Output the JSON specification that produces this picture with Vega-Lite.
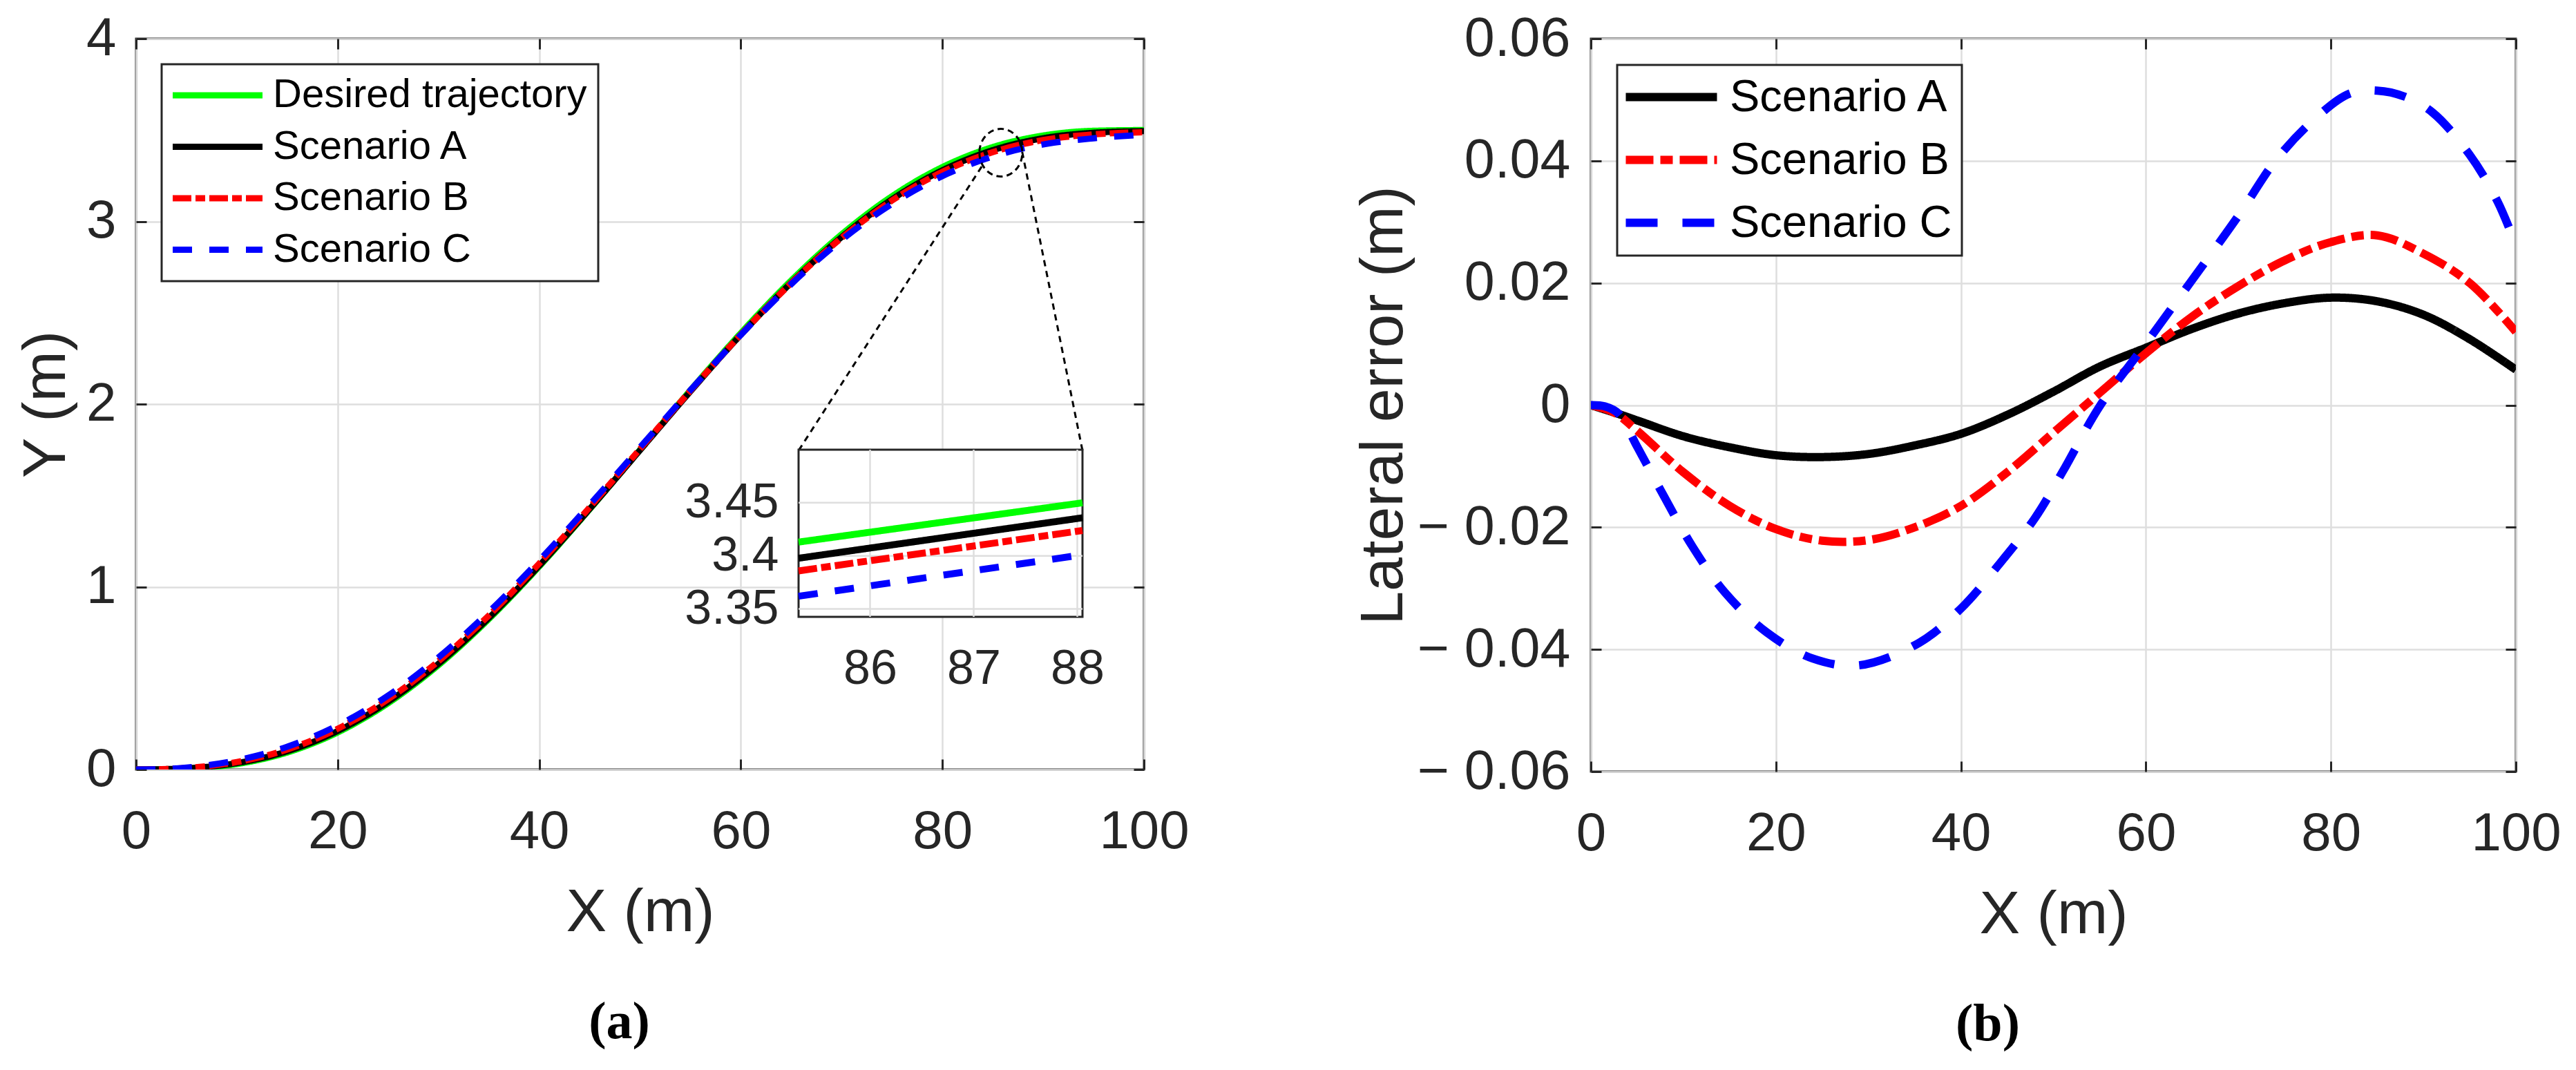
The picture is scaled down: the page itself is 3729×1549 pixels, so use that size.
{
  "$schema": "https://vega.github.io/schema/vega-lite/v6.json",
  "background": "white",
  "padding": {"left": 22, "top": 15, "right": 5, "bottom": 5},
  "config": {
    "view": {"stroke": "#262626", "strokeWidth": 3},
    "font": "Liberation Sans",
    "axis": {
      "domain": false,
      "labelFont": "Liberation Sans",
      "titleFont": "Liberation Sans",
      "labelColor": "#262626",
      "titleColor": "#262626",
      "titleFontWeight": "normal",
      "tickColor": "#262626",
      "tickWidth": 3,
      "tickSize": -15,
      "gridColor": "#dedede",
      "gridWidth": 2.5,
      "labelFlush": false,
      "labelOverlap": false,
      "labelBound": false,
      "labelLimit": 400
    }
  },
  "datasets": {
    "main": [
      {"x": 0, "y": 0, "s": "Desired trajectory"}, {"x": 2.5, "y": 0.0005, "s": "Desired trajectory"}, {"x": 5, "y": 0.0041, "s": "Desired trajectory"}, {"x": 10, "y": 0.03, "s": "Desired trajectory"}, {"x": 15, "y": 0.0931, "s": "Desired trajectory"}, {"x": 20, "y": 0.2027, "s": "Desired trajectory"}, {"x": 25, "y": 0.3623, "s": "Desired trajectory"}, {"x": 30, "y": 0.5708, "s": "Desired trajectory"}, {"x": 35, "y": 0.8231, "s": "Desired trajectory"}, {"x": 40, "y": 1.111, "s": "Desired trajectory"}, {"x": 45, "y": 1.4241, "s": "Desired trajectory"}, {"x": 50, "y": 1.75, "s": "Desired trajectory"}, {"x": 55, "y": 2.0759, "s": "Desired trajectory"}, {"x": 60, "y": 2.389, "s": "Desired trajectory"}, {"x": 65, "y": 2.6769, "s": "Desired trajectory"}, {"x": 70, "y": 2.9292, "s": "Desired trajectory"}, {"x": 75, "y": 3.1377, "s": "Desired trajectory"}, {"x": 80, "y": 3.2973, "s": "Desired trajectory"}, {"x": 85, "y": 3.4069, "s": "Desired trajectory"}, {"x": 90, "y": 3.47, "s": "Desired trajectory"}, {"x": 95, "y": 3.496, "s": "Desired trajectory"}, {"x": 100, "y": 3.5, "s": "Desired trajectory"},
      {"x": 0, "y": 0, "s": "Scenario A"}, {"x": 2.5, "y": 0.0017, "s": "Scenario A"}, {"x": 5, "y": 0.0066, "s": "Scenario A"}, {"x": 10, "y": 0.0351, "s": "Scenario A"}, {"x": 15, "y": 0.1, "s": "Scenario A"}, {"x": 20, "y": 0.2109, "s": "Scenario A"}, {"x": 25, "y": 0.3708, "s": "Scenario A"}, {"x": 30, "y": 0.5788, "s": "Scenario A"}, {"x": 35, "y": 0.8297, "s": "Scenario A"}, {"x": 40, "y": 1.1157, "s": "Scenario A"}, {"x": 45, "y": 1.4257, "s": "Scenario A"}, {"x": 50, "y": 1.7478, "s": "Scenario A"}, {"x": 55, "y": 2.0696, "s": "Scenario A"}, {"x": 60, "y": 2.3796, "s": "Scenario A"}, {"x": 65, "y": 2.6644, "s": "Scenario A"}, {"x": 70, "y": 2.9142, "s": "Scenario A"}, {"x": 75, "y": 3.121, "s": "Scenario A"}, {"x": 80, "y": 3.2797, "s": "Scenario A"}, {"x": 85, "y": 3.3899, "s": "Scenario A"}, {"x": 90, "y": 3.4552, "s": "Scenario A"}, {"x": 95, "y": 3.4852, "s": "Scenario A"}, {"x": 100, "y": 3.4942, "s": "Scenario A"},
      {"x": 0, "y": 0, "s": "Scenario B"}, {"x": 2.5, "y": 0.0017, "s": "Scenario B"}, {"x": 5, "y": 0.0083, "s": "Scenario B"}, {"x": 10, "y": 0.041, "s": "Scenario B"}, {"x": 15, "y": 0.1096, "s": "Scenario B"}, {"x": 20, "y": 0.223, "s": "Scenario B"}, {"x": 25, "y": 0.3845, "s": "Scenario B"}, {"x": 30, "y": 0.5929, "s": "Scenario B"}, {"x": 35, "y": 0.8431, "s": "Scenario B"}, {"x": 40, "y": 1.1275, "s": "Scenario B"}, {"x": 45, "y": 1.4351, "s": "Scenario B"}, {"x": 50, "y": 1.7545, "s": "Scenario B"}, {"x": 55, "y": 2.0739, "s": "Scenario B"}, {"x": 60, "y": 2.3805, "s": "Scenario B"}, {"x": 65, "y": 2.6624, "s": "Scenario B"}, {"x": 70, "y": 2.9097, "s": "Scenario B"}, {"x": 75, "y": 3.114, "s": "Scenario B"}, {"x": 80, "y": 3.2706, "s": "Scenario B"}, {"x": 85, "y": 3.3791, "s": "Scenario B"}, {"x": 90, "y": 3.4452, "s": "Scenario B"}, {"x": 95, "y": 3.476, "s": "Scenario B"}, {"x": 100, "y": 3.488, "s": "Scenario B"},
      {"x": 0, "y": 0, "s": "Scenario C"}, {"x": 2.5, "y": 0.0015, "s": "Scenario C"}, {"x": 5, "y": 0.0107, "s": "Scenario C"}, {"x": 10, "y": 0.0505, "s": "Scenario C"}, {"x": 15, "y": 0.1246, "s": "Scenario C"}, {"x": 20, "y": 0.2411, "s": "Scenario C"}, {"x": 25, "y": 0.4042, "s": "Scenario C"}, {"x": 30, "y": 0.6133, "s": "Scenario C"}, {"x": 35, "y": 0.8624, "s": "Scenario C"}, {"x": 40, "y": 1.1443, "s": "Scenario C"}, {"x": 45, "y": 1.4486, "s": "Scenario C"}, {"x": 50, "y": 1.7633, "s": "Scenario C"}, {"x": 55, "y": 2.0761, "s": "Scenario C"}, {"x": 60, "y": 2.3789, "s": "Scenario C"}, {"x": 65, "y": 2.6564, "s": "Scenario C"}, {"x": 70, "y": 2.8982, "s": "Scenario C"}, {"x": 75, "y": 3.0962, "s": "Scenario C"}, {"x": 80, "y": 3.2483, "s": "Scenario C"}, {"x": 85, "y": 3.3554, "s": "Scenario C"}, {"x": 90, "y": 3.4212, "s": "Scenario C"}, {"x": 95, "y": 3.4545, "s": "Scenario C"}, {"x": 100, "y": 3.4738, "s": "Scenario C"}
    ],
    "inset": [
      {"x": 85.31, "y": 3.413, "s": "Desired trajectory"}, {"x": 88.05, "y": 3.45, "s": "Desired trajectory"},
      {"x": 85.31, "y": 3.3978, "s": "Scenario A"}, {"x": 88.05, "y": 3.4359, "s": "Scenario A"},
      {"x": 85.31, "y": 3.3859, "s": "Scenario B"}, {"x": 88.05, "y": 3.4239, "s": "Scenario B"},
      {"x": 85.31, "y": 3.362, "s": "Scenario C"}, {"x": 88.05, "y": 3.401, "s": "Scenario C"}
    ],
    "insetgridx": [{"v": 86}, {"v": 87}, {"v": 88}],
    "insetgridy": [{"v": 3.35}, {"v": 3.4}, {"v": 3.45}],
    "callout": [
      {"x": 83.9, "y": 3.3, "x2": 65.73, "y2": 1.7455},
      {"x": 87.7, "y": 3.44, "x2": 93.9, "y2": 1.7455}
    ],
    "zoomspot": [{"x": 85.8, "y": 3.376}],
    "err": [
      {"x": 0, "e": 0, "s": "Scenario A"}, {"x": 2.5, "e": -0.0012, "s": "Scenario A"}, {"x": 5, "e": -0.0025, "s": "Scenario A"}, {"x": 10, "e": -0.0051, "s": "Scenario A"}, {"x": 15, "e": -0.0069, "s": "Scenario A"}, {"x": 20, "e": -0.0082, "s": "Scenario A"}, {"x": 25, "e": -0.0085, "s": "Scenario A"}, {"x": 30, "e": -0.008, "s": "Scenario A"}, {"x": 35, "e": -0.0066, "s": "Scenario A"}, {"x": 40, "e": -0.0047, "s": "Scenario A"}, {"x": 45, "e": -0.0016, "s": "Scenario A"}, {"x": 50, "e": 0.0022, "s": "Scenario A"}, {"x": 55, "e": 0.0063, "s": "Scenario A"}, {"x": 60, "e": 0.0094, "s": "Scenario A"}, {"x": 65, "e": 0.0125, "s": "Scenario A"}, {"x": 70, "e": 0.015, "s": "Scenario A"}, {"x": 75, "e": 0.0167, "s": "Scenario A"}, {"x": 80, "e": 0.0176, "s": "Scenario A"}, {"x": 85, "e": 0.017, "s": "Scenario A"}, {"x": 90, "e": 0.0148, "s": "Scenario A"}, {"x": 95, "e": 0.0108, "s": "Scenario A"}, {"x": 100, "e": 0.0058, "s": "Scenario A"},
      {"x": 0, "e": 0, "s": "Scenario B"}, {"x": 2.5, "e": -0.0012, "s": "Scenario B"}, {"x": 5, "e": -0.0042, "s": "Scenario B"}, {"x": 10, "e": -0.011, "s": "Scenario B"}, {"x": 15, "e": -0.0165, "s": "Scenario B"}, {"x": 20, "e": -0.0203, "s": "Scenario B"}, {"x": 25, "e": -0.0222, "s": "Scenario B"}, {"x": 30, "e": -0.0221, "s": "Scenario B"}, {"x": 35, "e": -0.02, "s": "Scenario B"}, {"x": 40, "e": -0.0165, "s": "Scenario B"}, {"x": 45, "e": -0.011, "s": "Scenario B"}, {"x": 50, "e": -0.0045, "s": "Scenario B"}, {"x": 55, "e": 0.002, "s": "Scenario B"}, {"x": 60, "e": 0.0085, "s": "Scenario B"}, {"x": 65, "e": 0.0145, "s": "Scenario B"}, {"x": 70, "e": 0.0195, "s": "Scenario B"}, {"x": 75, "e": 0.0237, "s": "Scenario B"}, {"x": 80, "e": 0.0267, "s": "Scenario B"}, {"x": 85, "e": 0.0278, "s": "Scenario B"}, {"x": 90, "e": 0.0248, "s": "Scenario B"}, {"x": 95, "e": 0.02, "s": "Scenario B"}, {"x": 100, "e": 0.012, "s": "Scenario B"},
      {"x": 0, "e": 0, "s": "Scenario C"}, {"x": 1.5, "e": -0.0002, "s": "Scenario C"}, {"x": 3, "e": -0.0014, "s": "Scenario C"}, {"x": 5, "e": -0.0068, "s": "Scenario C"}, {"x": 8, "e": -0.0152, "s": "Scenario C"}, {"x": 11, "e": -0.0232, "s": "Scenario C"}, {"x": 14.5, "e": -0.0307, "s": "Scenario C"}, {"x": 19, "e": -0.0372, "s": "Scenario C"}, {"x": 24, "e": -0.0415, "s": "Scenario C"}, {"x": 29, "e": -0.0426, "s": "Scenario C"}, {"x": 35.5, "e": -0.0389, "s": "Scenario C"}, {"x": 40, "e": -0.0333, "s": "Scenario C"}, {"x": 44, "e": -0.0263, "s": "Scenario C"}, {"x": 48, "e": -0.0185, "s": "Scenario C"}, {"x": 51, "e": -0.0109, "s": "Scenario C"}, {"x": 55, "e": -0.0002, "s": "Scenario C"}, {"x": 60, "e": 0.0101, "s": "Scenario C"}, {"x": 65, "e": 0.0205, "s": "Scenario C"}, {"x": 70, "e": 0.031, "s": "Scenario C"}, {"x": 74, "e": 0.04, "s": "Scenario C"}, {"x": 78, "e": 0.0465, "s": "Scenario C"}, {"x": 82, "e": 0.051, "s": "Scenario C"}, {"x": 85, "e": 0.0515, "s": "Scenario C"}, {"x": 88, "e": 0.0505, "s": "Scenario C"}, {"x": 91, "e": 0.0479, "s": "Scenario C"}, {"x": 95, "e": 0.041, "s": "Scenario C"}, {"x": 98, "e": 0.0334, "s": "Scenario C"}, {"x": 100, "e": 0.0262, "s": "Scenario C"}
    ]
  },
  "resolve": {"scale": {"x": "independent", "y": "independent", "color": "independent", "strokeDash": "independent"}},
  "spacing": 234,
  "hconcat": [
    {
      "width": 1459,
      "height": 1058,
      "title": {"text": "(a)", "orient": "bottom", "font": "Liberation Serif", "fontSize": 76, "fontWeight": "bold", "color": "black", "anchor": "middle", "frame": "group", "dx": -30, "offset": 78},
      "layer": [
        {
          "layer": [
            {
              "data": {"name": "main"},
              "mark": {"type": "line", "strokeWidth": 9, "interpolate": "monotone", "clip": true},
              "encoding": {
                "x": {"field": "x", "type": "quantitative", "scale": {"domain": [0, 100], "nice": false}, "axis": {"values": [0, 20, 40, 60, 80, 100], "title": "X (m)", "labelFontSize": 78, "titleFontSize": 88, "labelPadding": 66, "titlePadding": 34, "grid": true}},
                "y": {"field": "y", "type": "quantitative", "scale": {"domain": [0, 4], "nice": false}, "axis": {"values": [0, 1, 2, 3, 4], "title": "Y (m)", "labelFontSize": 78, "titleFontSize": 88, "labelPadding": 44, "titlePadding": 13, "grid": true}},
                "color": {"field": "s", "type": "nominal", "scale": {"domain": ["Desired trajectory", "Scenario A", "Scenario B", "Scenario C"], "range": ["#00ff00", "#000000", "#ff0000", "#0000ff"]},
                  "legend": {"title": null, "orient": "top-left", "offset": 37, "symbolType": "M-4,0L4,0", "symbolSize": 1056, "symbolStrokeWidth": 9, "symbolOffset": 36, "labelOffset": 51, "labelFontSize": 58, "labelFont": "Liberation Sans", "labelColor": "black", "labelLimit": 1000, "rowPadding": 16.5, "padding": 16, "strokeColor": "#262626", "fillColor": "white", "encoding": {"legend": {"strokeWidth": {"value": 3}}}}},
                "strokeDash": {"field": "s", "type": "nominal", "scale": {"domain": ["Desired trajectory", "Scenario A", "Scenario B", "Scenario C"], "range": [[1, 0], [1, 0], [27, 6, 14, 6], [28, 25]]},
                  "legend": {"title": null, "orient": "top-left", "offset": 37, "symbolType": "M-4,0L4,0", "symbolSize": 1056, "symbolStrokeWidth": 9, "symbolOffset": 36, "labelOffset": 51, "labelFontSize": 58, "labelFont": "Liberation Sans", "labelColor": "black", "labelLimit": 1000, "rowPadding": 16.5, "padding": 16, "strokeColor": "#262626", "fillColor": "white", "encoding": {"legend": {"strokeWidth": {"value": 3}}}}}
              }
            },
            {
              "data": {"name": "callout"},
              "mark": {"type": "rule", "strokeDash": [9, 7], "strokeWidth": 3, "color": "black"},
              "encoding": {
                "x": {"field": "x", "type": "quantitative", "scale": {"domain": [0, 100], "nice": false}, "axis": {"orient": "top", "values": [0, 20, 40, 60, 80, 100], "labels": false, "grid": false, "title": null}},
                "y": {"field": "y", "type": "quantitative", "scale": {"domain": [0, 4], "nice": false}, "axis": {"orient": "right", "values": [0, 1, 2, 3, 4], "labels": false, "grid": false, "title": null}},
                "x2": {"field": "x2"},
                "y2": {"field": "y2"}
              }
            },
            {
              "data": {"name": "zoomspot"},
              "mark": {"type": "point", "shape": "M-0.9,0A0.9,1,0,1,0,0.9,0A0.9,1,0,1,0,-0.9,0Z", "size": 4761, "filled": false, "strokeWidth": 3, "strokeDash": [9, 6], "color": "black", "opacity": 1},
              "encoding": {
                "x": {"field": "x", "type": "quantitative", "axis": null},
                "y": {"field": "y", "type": "quantitative", "axis": null}
              }
            }
          ],
          "resolve": {"axis": {"x": "independent", "y": "independent"}}
        },
        {
          "layer": [
            {
              "data": {"values": [{}]},
              "mark": {"type": "rect", "fill": "white", "stroke": "#262626", "strokeWidth": 3},
              "encoding": {
                "x": {"datum": 85.31, "type": "quantitative", "scale": {"domain": [85.31, 88.05], "range": [959, 1370], "nice": false}, "axis": {"orient": "bottom", "offset": -221, "values": [86, 87, 88], "title": null, "labelFontSize": 70, "labelPadding": 47, "tickSize": -6, "grid": false}},
                "x2": {"datum": 88.05},
                "y": {"datum": 3.3426, "type": "quantitative", "scale": {"domain": [3.3426, 3.5], "range": [837, 595], "nice": false}, "axis": {"orient": "left", "offset": -959, "values": [3.35, 3.4, 3.45], "format": "~g", "title": null, "labelFontSize": 70, "labelPadding": 35, "tickSize": -6, "grid": false}},
                "y2": {"datum": 3.5}
              }
            },
            {
              "data": {"name": "insetgridx"},
              "mark": {"type": "rule", "color": "#dedede", "strokeWidth": 2.5},
              "encoding": {
                "x": {"field": "v", "type": "quantitative", "axis": {"orient": "top", "offset": -595, "values": [86, 87, 88], "labels": false, "grid": false, "title": null, "tickSize": -6}},
                "y": {"datum": 3.3426, "type": "quantitative", "axis": null},
                "y2": {"datum": 3.5}
              }
            },
            {
              "data": {"name": "insetgridy"},
              "mark": {"type": "rule", "color": "#dedede", "strokeWidth": 2.5},
              "encoding": {
                "y": {"field": "v", "type": "quantitative", "axis": {"orient": "right", "offset": -89, "values": [3.35, 3.4, 3.45], "labels": false, "grid": false, "title": null, "tickSize": -6}},
                "x": {"datum": 85.31, "type": "quantitative", "axis": null},
                "x2": {"datum": 88.05}
              }
            },
            {
              "data": {"name": "inset"},
              "mark": {"type": "line", "strokeWidth": 10},
              "encoding": {
                "x": {"field": "x", "type": "quantitative", "axis": null},
                "y": {"field": "y", "type": "quantitative", "axis": null},
                "color": {"field": "s", "type": "nominal", "scale": {"domain": ["Desired trajectory", "Scenario A", "Scenario B", "Scenario C"], "range": ["#00ff00", "#000000", "#ff0000", "#0000ff"]}, "legend": null},
                "strokeDash": {"field": "s", "type": "nominal", "scale": {"domain": ["Desired trajectory", "Scenario A", "Scenario B", "Scenario C"], "range": [[1, 0], [1, 0], [27, 6, 14, 6], [28, 25]]}, "legend": null}
              }
            }
          ],
          "resolve": {"axis": {"x": "independent", "y": "independent"}}
        }
      ],
      "resolve": {"scale": {"x": "independent", "y": "independent", "color": "independent", "strokeDash": "independent"}, "axis": {"x": "independent", "y": "independent"}}
    },
    {
      "width": 1339,
      "height": 1061,
      "title": {"text": "(b)", "orient": "bottom", "font": "Liberation Serif", "fontSize": 76, "fontWeight": "bold", "color": "black", "anchor": "middle", "frame": "group", "dx": -95, "offset": 78},
      "data": {"name": "err"},
      "layer": [
        {
          "transform": [{"filter": "datum.s == 'Scenario A'"}],
          "mark": {"type": "line", "strokeWidth": 12, "interpolate": "catmull-rom", "clip": true},
          "encoding": {
            "x": {"field": "x", "type": "quantitative", "scale": {"domain": [0, 100], "nice": false}, "axis": {"values": [0, 20, 40, 60, 80, 100], "title": "X (m)", "labelFontSize": 78, "titleFontSize": 88, "labelPadding": 66, "titlePadding": 34, "grid": true}},
            "y": {"field": "e", "type": "quantitative", "scale": {"domain": [-0.06, 0.06], "nice": false}, "axis": {"values": [-0.06, -0.04, -0.02, 0, 0.02, 0.04, 0.06], "labelExpr": "datum.value < -0.001 ? '− ' + format(-datum.value, '.2f') : (datum.value > 0.001 ? format(datum.value, '.2f') : '0')", "title": "Lateral error (m)", "labelFontSize": 79, "titleFontSize": 88, "labelPadding": 45, "titlePadding": 56, "grid": true}},
            "color": {"field": "s", "type": "nominal", "scale": {"domain": ["Scenario A", "Scenario B", "Scenario C"], "range": ["#000000", "#ff0000", "#0000ff"]},
              "legend": {"title": null, "orient": "top-left", "offset": 38, "symbolType": "M-4,0L4,0", "symbolSize": 1089, "symbolStrokeWidth": 12, "symbolOffset": 32, "labelOffset": 52, "labelFontSize": 65, "labelFont": "Liberation Sans", "labelColor": "black", "labelLimit": 1000, "rowPadding": 25, "padding": 14, "strokeColor": "#262626", "fillColor": "white", "encoding": {"legend": {"strokeWidth": {"value": 3}}}}},
            "strokeDash": {"field": "s", "type": "nominal", "scale": {"domain": ["Scenario A", "Scenario B", "Scenario C"], "range": [[1, 0], [40, 10, 18, 10], [46, 36]]},
              "legend": {"title": null, "orient": "top-left", "offset": 38, "symbolType": "M-4,0L4,0", "symbolSize": 1089, "symbolStrokeWidth": 12, "symbolOffset": 32, "labelOffset": 52, "labelFontSize": 65, "labelFont": "Liberation Sans", "labelColor": "black", "labelLimit": 1000, "rowPadding": 25, "padding": 14, "strokeColor": "#262626", "fillColor": "white", "encoding": {"legend": {"strokeWidth": {"value": 3}}}}}
          }
        },
        {
          "transform": [{"filter": "datum.s != 'Scenario A'"}],
          "mark": {"type": "line", "strokeWidth": 12, "interpolate": "catmull-rom", "clip": true},
          "encoding": {
            "x": {"field": "x", "type": "quantitative", "scale": {"domain": [0, 100], "nice": false}, "axis": {"orient": "top", "values": [0, 20, 40, 60, 80, 100], "labels": false, "grid": false, "title": null}},
            "y": {"field": "e", "type": "quantitative", "scale": {"domain": [-0.06, 0.06], "nice": false}, "axis": {"orient": "right", "values": [-0.06, -0.04, -0.02, 0, 0.02, 0.04, 0.06], "labels": false, "grid": false, "title": null}},
            "color": {"field": "s", "type": "nominal", "scale": {"domain": ["Scenario A", "Scenario B", "Scenario C"], "range": ["#000000", "#ff0000", "#0000ff"]},
              "legend": {"title": null, "orient": "top-left", "offset": 38, "symbolType": "M-4,0L4,0", "symbolSize": 1089, "symbolStrokeWidth": 12, "symbolOffset": 32, "labelOffset": 52, "labelFontSize": 65, "labelFont": "Liberation Sans", "labelColor": "black", "labelLimit": 1000, "rowPadding": 25, "padding": 14, "strokeColor": "#262626", "fillColor": "white", "encoding": {"legend": {"strokeWidth": {"value": 3}}}}},
            "strokeDash": {"field": "s", "type": "nominal", "scale": {"domain": ["Scenario A", "Scenario B", "Scenario C"], "range": [[1, 0], [40, 10, 18, 10], [46, 36]]},
              "legend": {"title": null, "orient": "top-left", "offset": 38, "symbolType": "M-4,0L4,0", "symbolSize": 1089, "symbolStrokeWidth": 12, "symbolOffset": 32, "labelOffset": 52, "labelFontSize": 65, "labelFont": "Liberation Sans", "labelColor": "black", "labelLimit": 1000, "rowPadding": 25, "padding": 14, "strokeColor": "#262626", "fillColor": "white", "encoding": {"legend": {"strokeWidth": {"value": 3}}}}}
          }
        }
      ],
      "resolve": {"axis": {"x": "independent", "y": "independent"}}
    }
  ]
}
